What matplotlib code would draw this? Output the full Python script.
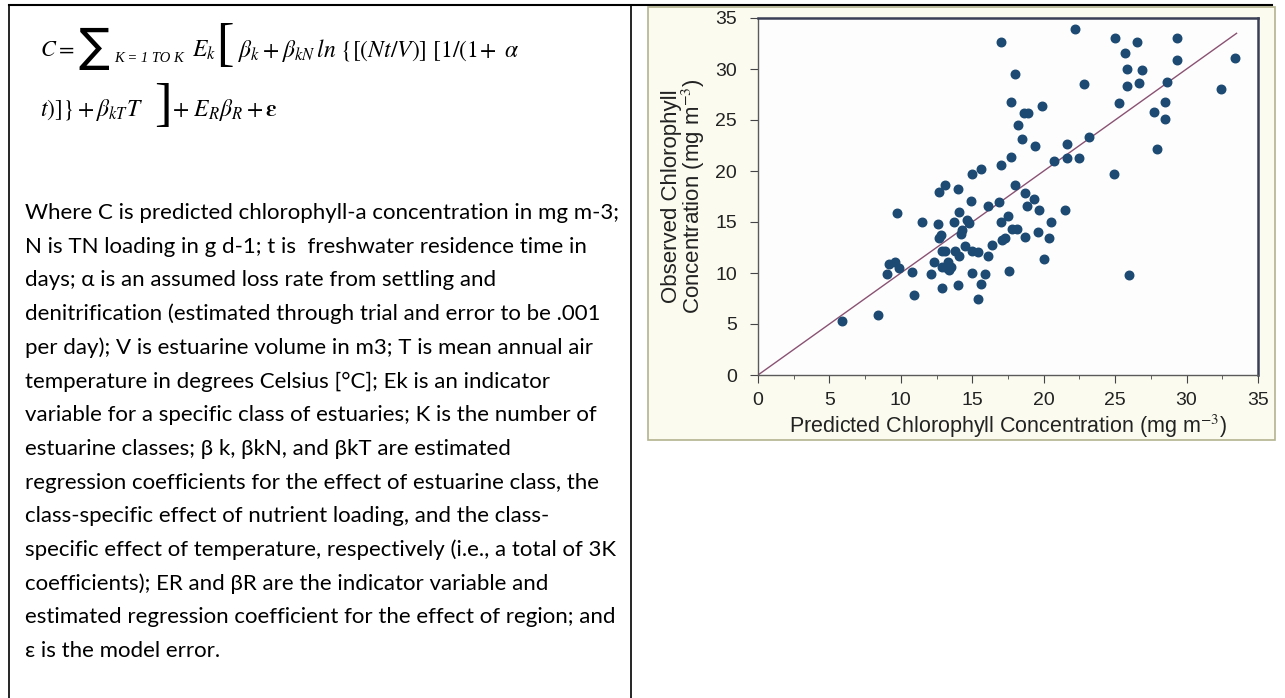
import matplotlib
matplotlib.use("Agg")
from matplotlib import pyplot as plt
from matplotlib.lines import Line2D
from matplotlib.patches import Rectangle

# scatter data
predicted = [5.9, 8.4, 9.0, 9.2, 9.6, 9.7, 9.9, 10.8, 10.9, 11.5,
             12.1, 12.3, 12.6, 12.7, 12.7, 12.8, 12.9, 12.9, 12.9, 13.1,
             13.1, 13.2, 13.3, 13.4, 13.5, 13.7, 13.8, 14.0, 14.0, 14.1,
             14.1, 14.2, 14.3, 14.5, 14.6, 14.8, 14.9, 15.0, 15.0, 15.0,
             15.4, 15.4, 15.6, 15.6, 15.9, 16.1, 16.1, 16.4, 17.0, 17.0,
             16.9, 17.0, 17.1, 17.3, 17.5, 17.6, 17.7, 17.7, 17.8, 18.0,
             18.0, 18.1, 18.2, 18.5, 18.6, 18.7, 18.7, 18.8, 18.9, 19.3,
             19.4, 19.6, 19.7, 19.9, 20.0, 20.4, 20.5, 20.7, 21.5, 21.6,
             21.6, 22.2, 22.5, 22.8, 23.2, 24.9, 25.0, 25.3, 25.7, 25.8,
             25.8, 26.0, 26.5, 26.7, 26.9, 27.7, 27.9, 28.5, 28.5, 28.6,
             29.3, 29.3, 32.4, 33.4]
observed = [5.3, 5.9, 9.9, 10.9, 11.1, 15.9, 10.5, 10.1, 7.8, 15.0,
            9.9, 11.1, 14.8, 17.9, 13.4, 13.7, 12.2, 10.6, 8.5, 18.6,
            12.2, 10.5, 11.1, 10.3, 10.6, 15.0, 12.2, 8.8, 18.2, 16.0,
            11.7, 13.8, 14.2, 12.6, 15.2, 14.9, 17.1, 19.7, 12.2, 10.0,
            12.1, 7.5, 8.9, 20.2, 9.9, 11.7, 16.6, 12.7, 32.6, 20.6,
            17.0, 15.0, 13.2, 13.4, 15.6, 10.2, 26.8, 21.4, 14.3, 29.5,
            18.6, 14.3, 24.5, 23.1, 25.7, 17.8, 13.5, 16.6, 25.7, 17.3,
            22.5, 14.0, 16.2, 26.4, 11.4, 13.4, 15.0, 21.0, 16.2, 22.6,
            21.3, 33.9, 21.3, 28.5, 23.3, 19.7, 33.0, 26.7, 31.6, 30.0,
            28.3, 9.8, 32.6, 28.6, 29.9, 25.8, 22.2, 25.1, 26.8, 28.7,
            33.0, 30.9, 28.0, 31.1]
line_ends = [0, 33.5]
ticks = [0, 5, 10, 15, 20, 25, 30, 35]
minor_ticks = [2.5, 7.5, 12.5, 17.5, 22.5, 27.5, 32.5]

formula_line1 = r"$\beta_k + \beta_{kN}\,ln\ \{[(Nt/V)]\ [1/(1\!+\ \alpha$"
formula_line2 = r"$t)]\} + \beta_{kT}T$"
formula_tail = r"$+\ E_R\beta_R + \mathbf{\varepsilon}$"

paragraph = [
    "Where C is predicted chlorophyll-a concentration in mg m-3;",
    "N is TN loading in g d-1; t is  freshwater residence time in",
    "days; \u03b1 is an assumed loss rate from settling and",
    "denitrification (estimated through trial and error to be .001",
    "per day); V is estuarine volume in m3; T is mean annual air",
    "temperature in degrees Celsius [\u00b0C]; Ek is an indicator",
    "variable for a specific class of estuaries; K is the number of",
    "estuarine classes; \u03b2 k, \u03b2kN, and \u03b2kT are estimated",
    "regression coefficients for the effect of estuarine class, the",
    "class-specific effect of nutrient loading, and the class-",
    "specific effect of temperature, respectively (i.e., a total of 3K",
    "coefficients); ER and \u03b2R are the indicator variable and",
    "estimated regression coefficient for the effect of region; and",
    "\u03b5 is the model error.",
]

W, H = 1285, 698
plt.rcParams["mathtext.fontset"] = "stix"
fig = plt.figure(figsize=(W / 100, H / 100), dpi=100)
fig.patch.set_facecolor("white")

def fx(x):
    return x / W

def fy(y):
    return 1 - y / H

# table borders
fig.add_artist(Line2D([fx(9), fx(1272)], [fy(5), fy(5)], color="black", lw=1.5))
fig.add_artist(Line2D([fx(9), fx(9)], [fy(5), fy(698)], color="black", lw=1.2))
fig.add_artist(Line2D([fx(631), fx(631)], [fy(5), fy(698)], color="black", lw=1.2))

# formula
serif = "Liberation Serif"
y1, y2 = 50, 110
fig.text(fx(40), fy(y1), r"$C =$", fontsize=16, va="center")
fig.text(fx(78), fy(y1 - 2), "\u2211", fontsize=33, va="center", family="DejaVu Sans")
fig.text(fx(114), fy(y1 + 9), "K = 1 TO K", fontsize=10.5, va="center", family=serif, style="italic")
fig.text(fx(192), fy(y1), r"$E_k$", fontsize=17, va="center")
fig.text(fx(216), fy(y1 - 3), "[", fontsize=38, va="center", family=serif)
fig.text(fx(238), fy(y1), formula_line1, fontsize=17, va="center")
fig.text(fx(40), fy(y2), formula_line2, fontsize=17, va="center")
fig.text(fx(154), fy(y2 - 3), "]", fontsize=38, va="center", family=serif)
fig.text(fx(172), fy(y2), formula_tail, fontsize=17, va="center")

# paragraph
for i, line in enumerate(paragraph):
    fig.text(fx(25), fy(213 + i * 33.7), line, fontsize=16, va="center", family="Lato")

# picture frame behind the chart
fig.add_artist(Rectangle((fx(648), fy(440)), fx(1275) - fx(648), fy(7) - fy(440),
                         facecolor="#fbfbf0", edgecolor="#b3b38f", lw=1.2, zorder=0))

ax = fig.add_axes([fx(758), fy(375), fx(1258) - fx(758), fy(18) - fy(375)])
ax.set_zorder(2)
ax.set_facecolor("#fdfdfd")
ax.plot(line_ends, line_ends, color="#8a5272", lw=1)
ax.scatter(predicted, observed, s=38, color="#1d4a72", zorder=3)
ax.set_xlim(0, 35)
ax.set_ylim(0, 35)
ax.set_xticks(ticks)
ax.set_yticks(ticks)
ax.set_xticks(minor_ticks, minor=True)
ax.tick_params(axis="both", labelsize=14, color="#444444", length=6, labelcolor="#222222")
ax.tick_params(axis="y", pad=9)
ax.tick_params(axis="x", pad=6)
ax.tick_params(axis="x", which="minor", length=3, color="#444444")
for lab in ax.get_xticklabels() + ax.get_yticklabels():
    lab.set_family("Liberation Sans")
for side in ["top", "right"]:
    ax.spines[side].set_color("#3a3f55")
    ax.spines[side].set_linewidth(1.8)
for side in ["left", "bottom"]:
    ax.spines[side].set_color("#5a5a5a")
    ax.spines[side].set_linewidth(1.0)
ax.set_xlabel("Predicted Chlorophyll Concentration (mg m$^{-3}$)", fontsize=15.5,
              family="Liberation Sans", color="#222222", labelpad=3)
ax.set_ylabel("Observed Chlorophyll\nConcentration (mg m$^{-3}$)", fontsize=16,
              family="Liberation Sans", color="#222222", linespacing=0.9, labelpad=6)

fig.savefig("out.png", dpi=100)
